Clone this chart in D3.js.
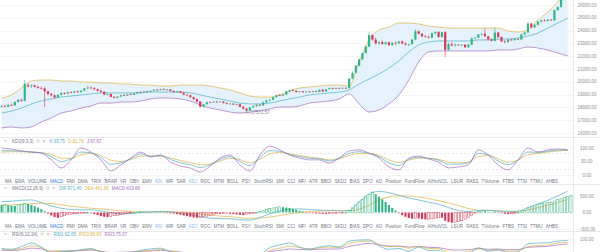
<!DOCTYPE html>
<html>
<head>
<meta charset="utf-8">
<script src="https://cdn.jsdelivr.net/npm/d3@7"></script>
<style>
  body { margin: 0; background: #fff; }
  svg { display: block; font-family: "Liberation Sans", Arial, sans-serif; }
</style>
</head>
<body>
<div id="chart"></div>
<script>
// Candles: [open, high, low, close]
const ohlc = [
  [18050,18180,17980,18120],[18120,18200,18020,18060],[18060,18250,18000,18200],[18200,18300,18100,18150],
  [18150,18480,18120,18420],[18420,18650,18380,18600],[18600,18700,18450,18520],[18520,20140,18480,19850],
  [19750,19900,19550,19650],[19650,19800,19500,19720],[19720,19780,19550,19600],[19600,19700,19450,19520],
  [19520,19650,19400,19480],[19480,19600,18030,19250],[19250,19300,18950,19050],[19050,19150,18850,18950],
  [18950,19000,18700,18780],[18780,19050,18750,18980],[18980,19200,18900,19120],[19120,19200,19000,19080],
  [19080,19250,19020,19180],[19180,19280,19080,19150],[19150,19300,19100,19250],[19250,19320,19120,19200],
  [19200,19350,19150,19300],[19300,19520,19250,19480],[19480,19650,19400,19550],[19550,19620,19420,19500],
  [19500,19580,19350,19420],[19420,19480,19250,19300],[19300,19380,19150,19220],[19220,19260,18950,19000],
  [19000,19100,18900,19050],[19050,19080,18780,18820],[18820,18900,18700,18750],[18750,18880,18700,18850],
  [18850,19000,18800,18950],[18950,19050,18880,18920],[18920,19080,18900,19020],[19020,19100,18950,18980],
  [18980,19150,18950,19100],[19100,19250,19050,19200],[19200,19280,19120,19180],[19180,19300,19150,19250],
  [19250,19320,19180,19220],[19220,19350,19200,19300],[19300,19420,19250,19380],[19380,19450,19300,19350],
  [19350,19480,19320,19420],[19420,19500,19350,19380],[19380,19450,19300,19400],[19400,19430,19250,19280],
  [19280,19320,19150,19200],[19200,19280,19120,19250],[19250,19300,19100,19150],[19150,19180,18950,19000],
  [19000,19050,18900,18950],[18950,19000,18750,18800],[18800,18850,18600,18650],[18650,18700,18400,18450],
  [18450,18500,18000,18050],[18050,18300,18000,18250],[18250,18450,18200,18400],[18400,18480,18320,18380],
  [18380,18500,18350,18450],[18450,18520,18380,18420],[18420,18500,18350,18460],[18460,18480,18300,18350],
  [18350,18400,18220,18280],[18280,18350,18200,18300],[18300,18320,18180,18220],[18220,18300,18150,18250],
  [18250,18280,18000,18050],[18050,18100,17850,17900],[17900,17950,17571.57,17750],[17750,18050,17700,18000],
  [18000,18150,17950,18100],[18100,18250,18050,18200],[18200,18300,18100,18150],[18150,18450,18120,18400],
  [18400,18600,18350,18550],[18550,18650,18450,18600],[18600,18850,18550,18800],[18800,19000,18750,18950],
  [18950,19050,18880,18920],[18920,19050,18900,19000],[19000,19300,18980,19250],[19250,19420,19200,19350],
  [19350,19450,19250,19300],[19300,19350,19150,19200],[19200,19280,19120,19250],[19250,19300,19150,19180],
  [19180,19280,19150,19240],[19240,19300,19150,19200],[19200,19300,19150,19260],[19260,19320,19180,19220],
  [19220,19420,19200,19380],[19380,19450,19200,19250],[19250,19450,19220,19420],[19420,19550,19380,19500],
  [19500,19560,19400,19450],[19450,19550,19420,19520],[19520,19580,19430,19480],[19480,19560,19420,19530],
  [19530,19580,19450,19500],[19500,20300,19480,20250],[20250,20800,20200,20700],[20700,21300,20650,21250],
  [21250,21800,21200,21750],[21750,22300,21700,22250],[22250,22800,22200,22750],[22750,23900,22700,23650],
  [23650,23700,23200,23300],[23300,23450,22900,23000],[23000,23200,22850,23100],[23100,23250,22900,22950],
  [22950,23150,22850,23080],[23080,23150,22800,22880],[22880,23100,22800,23050],[23050,23150,22900,23000],
  [23000,23200,22950,23150],[23150,23250,22950,23000],[23000,23100,22850,22900],[22900,23000,22750,22950],
  [22950,23350,22900,23300],[23300,24100,23250,23950],[23950,24000,23700,23750],[23750,23800,23500,23550],
  [23550,23650,23450,23500],[23500,23600,23400,23450],[23450,23850,23400,23800],[23800,23950,23700,23900],
  [23900,23950,23450,23500],[23500,23900,23450,23880],[23880,23950,21950,22500],[22500,23050,22400,22950],
  [22950,23100,22750,22850],[22850,23000,22750,22900],[22900,22950,22800,22850],[22850,22950,22750,22900],
  [22900,22950,22650,22700],[22700,22950,22650,22900],[22900,23450,22850,23400],[23400,23500,23300,23450],
  [23450,23750,23400,23700],[23700,23800,23600,23750],[23750,24150,23500,23550],[23550,23600,23250,23300],
  [23300,23400,23150,23200],[23200,24250,23150,23850],[23850,23900,23400,23500],[23500,23550,23100,23150],
  [23150,23250,23000,23100],[23100,23350,23050,23300],[23300,23350,23200,23250],[23250,23400,23200,23350],
  [23350,23400,23250,23300],[23300,23750,23250,23700],[23700,23900,23650,23850],[23850,24650,23800,24550],
  [24550,24600,24150,24250],[24250,24500,24200,24450],[24450,24750,24400,24700],[24700,24850,24600,24800],
  [24800,24900,24700,24750],[24750,24880,24700,24850],[24850,24900,24750,24800],[24800,25650,24750,25600],
  [25600,25900,25550,25850],[25850,26600,25800,26500],[26500,27000,26450,26900],[26900,27400,26850,27300],
  [27300,27700,27250,27600]
];

// Indicator lines, read every 3rd candle
const LINE_STEP = 3;
const bollUpper = [18730,18970,19520,20060,20140,20140,20060,20060,19980,19980,
  19910,19910,19830,19830,19750,19750,19670,19670,19750,19750,
  19750,19670,19520,19360,19130,18890,18810,18810,18970,19280,
  19520,19590,19670,19750,19750,19670,21550,23270,24050,24280,
  24590,24590,24520,24360,24280,24200,24200,24200,24200,24200,
  24200,23970,23890,24050,24830,25450,26230,27330];
const bollMid = [17560,17720,17950,18270,18500,18660,18810,18890,18970,19050,
  19130,19130,19130,19130,19130,19200,19200,19200,19200,19130,
  18970,18810,18660,18500,18340,18270,18270,18340,18500,18660,
  18810,18970,19050,19130,19200,19360,19830,20220,20610,21080,
  21630,22330,22880,23110,23190,23190,23190,23190,23270,23270,
  23340,23340,23420,23580,23810,24200,24590,24980];
const bollLower = [16390,16470,16390,16470,16860,17170,17560,17720,17950,18110,
  18340,18340,18420,18420,18500,18660,18730,18730,18660,18500,
  18190,17950,17800,17640,17560,17640,17720,17880,18030,18030,
  18110,18340,18420,18500,18660,19050,18270,17640,17800,18270,
  18970,20140,21550,22330,22410,22410,22410,22410,22410,22410,
  22480,22480,22560,22720,22640,22480,22250,22020];

const kdjK = [90,90,88,85,82,68,50,60,85,82,65,40,45,60,78,70,72,58,45,38,
  28,38,58,68,50,35,65,90,88,76,68,62,60,52,62,80,86,80,68,45,
  35,58,66,62,55,40,40,45,80,75,52,38,55,85,84,88,92,93];
const kdjD = [85,86,86,85,83,76,62,62,75,80,72,55,50,57,70,70,70,63,54,46,
  38,40,52,62,57,45,58,78,84,78,72,66,62,56,60,72,80,80,72,56,
  46,55,62,62,58,48,45,48,68,72,60,48,55,75,80,85,89,91];
const kdjJ = [100,96,89,85,81,56,26,56,100,85,56,15,37,63,85,67,74,48,33,26,
  11,33,63,74,37,15,74,107,93,74,63,56,56,44,63,89,93,81,63,30,
  19,63,70,59,48,26,30,37,93,74,37,19,56,100,85,93,96,93];

const macdDif = [330,340,370,380,300,200,130,90,80,80,50,0,-40,-30,0,20,30,20,-10,-60,
  -130,-170,-180,-190,-220,-230,-150,-40,40,100,110,90,70,60,50,60,330,560,640,600,
  520,440,380,310,250,150,60,30,60,70,40,20,40,150,260,370,500,650];
const macdDea = [220,230,250,270,280,270,230,190,160,130,110,80,50,30,20,15,20,20,15,0,
  -40,-80,-110,-130,-155,-180,-170,-140,-90,-40,0,30,45,55,55,55,100,220,380,470,
  510,500,470,420,360,290,210,120,70,60,50,40,40,80,150,220,300,400];
// MACD histogram, one bar per candle
const macdHist = [230,240,220,210,200,230,250,280,260,230,190,150,100,
  40,-30,-90,-140,-160,-130,-100,-70,-50,-40,-30,-20,-10,0,
  -20,-50,-80,-110,-130,-140,-120,-100,-90,-70,-50,-30,
  -10,0,10,20,20,15,10,5,10,10,0,-10,-20,-30,-50,-70,
  -90,-110,-130,-150,-160,-150,-130,-110,-80,-60,-40,-40,-30,-30,-40,-50,-60,
  -70,-80,-60,-40,-20,0,30,60,90,120,140,160,170,160,150,140,110,80,50,30,
  10,-10,-20,-30,-30,-40,-40,-30,-30,-20,-20,-10,0,
  60,140,230,320,400,470,540,620,560,480,400,320,230,140,60,
  -20,-80,-130,-170,-190,-170,-180,-200,-210,-200,-190,-170,-160,-160,
  -250,-290,-310,-300,-280,-250,-200,-150,
  -80,-20,30,50,40,20,10,20,0,-20,-40,-50,-40,-20,0,20,
  60,140,170,200,240,270,290,300,310,350,390,430,460,490,520];

const rsi1 = [65,62,72,85,70,45,52,55,60,65,50,35,45,48,58,63,66,52,45,30,
  18,35,42,35,25,25,40,68,78,85,70,62,70,75,70,92,96,97,75,62,
  65,55,70,58,58,40,38,42,68,55,60,50,52,82,85,86,92,95];
const rsi2 = [60,60,65,75,68,52,55,56,58,62,54,45,48,50,55,58,61,55,50,40,
  30,38,42,40,34,33,40,58,66,74,68,64,67,70,68,84,90,93,80,72,
  73,66,72,65,64,52,50,52,64,58,60,55,56,72,76,78,85,88];
const rsi3 = [58,58,60,66,63,55,56,56,57,59,55,50,51,52,54,56,58,55,52,46,
  40,43,45,44,41,40,44,53,58,63,61,60,62,63,63,73,79,84,78,74,
  74,70,73,69,68,61,59,60,65,62,63,60,61,69,71,73,78,82];

// Axis ticks
const priceTicks = [26000,25000,24000,23000,22000,21000,20000,19000,18000,17000,16000];
const kdjTicks = [100,50,0];
const macdTicks = [500,0,-500];
const rsiTicks = [100];

// Legends
const kdjLegend = {name: 'KDJ(9,3,3)', values: ['K:93.75','D:91.79','J:97.67']};
const macdLegend = {name: 'MACD(12,26,9)', values: ['DIF:671.49','DEA:461.66','MACD:419.66']};
const rsiLegend = {name: 'RSI(6,12,24)', values: ['RSI1:92.65','RSI2:86.83','RSI3:75.37']};

// Indicator picker row
const indicatorNames = ['MA','EMA','VOLUME','MACD','RMI','DMA','TRIX','BRAR','VR','OBV','EMV','RSI','WR','SAR','KDJ',
  'ROC','MTM','BOLL','PSY','StochRSI','SMI','CCI','MFI','ATR','BBOI','SKDJ','BIAS','DPO','AO','Position',
  'FundFlow','AIHotVOL','LSUR','RASS','TVolume','FTBS','TTSI','TTMU','AHBS'];
const activeNames = {MACD: '#2f7de1', RSI: '#8cb8ec', KDJ: '#8cb8ec'};

// Layout / style
const WIDTH = 600, HEIGHT = 252, PLOT_W = 573, AXIS_X = 587;
const UP = '#35b585', DOWN = '#d8385a';
const C1 = '#4aaec4', C2 = '#dcb243', C3 = '#a46bbd';
const GRID = '#eeeeee', TEXT = '#8a919b', FONT = 4.5;

const svg = d3.select('#chart').append('svg')
  .attr('width', WIDTH).attr('height', HEIGHT);

const x = d3.scaleLinear().domain([0, ohlc.length - 1]).range([1.6, 571]);
const xs = (d, k) => x(k * LINE_STEP);

const panes = [
  {id: 'main', top: 0, bottom: 137},
  {id: 'kdj', top: 137, bottom: 184},
  {id: 'macd', top: 184, bottom: 231},
  {id: 'rsi', top: 231, bottom: 278}
];
const defs = svg.append('defs');
panes.forEach(p => {
  defs.append('clipPath').attr('id', `clip-${p.id}`)
    .append('rect').attr('x', 0).attr('y', p.top).attr('width', PLOT_W).attr('height', p.bottom - p.top);
});

const yPrice = d3.scaleLinear().domain([16000, 26000]).range([133, 5]);
const yKdj = d3.scaleLinear().domain([0, 100]).range([175, 148]);
const yMacd = d3.scaleLinear().domain([-500, 500]).range([229, 196]);
const yRsi = d3.scaleLinear().domain([0, 100]).range([266, 239]);

// Grid and axis labels
function drawAxis(ticks, y) {
  svg.append('g').selectAll('line').data(ticks).enter().append('line')
    .attr('x1', 0).attr('x2', PLOT_W)
    .attr('y1', d => Math.round(y(d)) + 0.5).attr('y2', d => Math.round(y(d)) + 0.5)
    .attr('stroke', GRID).attr('stroke-width', 0.6);
  svg.append('g').selectAll('text').data(ticks).enter().append('text')
    .attr('x', AXIS_X).attr('y', d => y(d)).attr('dy', '0.35em')
    .attr('text-anchor', 'middle').attr('font-size', FONT).attr('fill', TEXT)
    .text(d => d3.format('.2f')(d));
}
drawAxis(priceTicks, yPrice);
drawAxis(kdjTicks, yKdj);
drawAxis(macdTicks, yMacd);
drawAxis(rsiTicks, yRsi);

// KDJ reference lines
svg.append('g').selectAll('line').data([80, 20]).enter().append('line')
  .attr('x1', 0).attr('x2', PLOT_W).attr('y1', d => yKdj(d)).attr('y2', d => yKdj(d))
  .attr('stroke', '#cfcfcf').attr('stroke-width', 0.5).attr('stroke-dasharray', '2,2');

// Pane separators and axis border
svg.append('g').selectAll('line').data(panes.slice(1)).enter().append('line')
  .attr('x1', 0).attr('x2', WIDTH).attr('y1', d => d.top + 0.5).attr('y2', d => d.top + 0.5)
  .attr('stroke', '#e2e2e2').attr('stroke-width', 0.8);
svg.append('line').attr('x1', PLOT_W + 0.5).attr('x2', PLOT_W + 0.5).attr('y1', 0).attr('y2', HEIGHT)
  .attr('stroke', '#e2e2e2').attr('stroke-width', 0.8);

// Main pane: Bollinger band and candles
const main = svg.append('g').attr('clip-path', 'url(#clip-main)');
main.append('path').datum(bollMid)
  .attr('d', d3.area().x(xs).y0((d, k) => yPrice(bollLower[k])).y1((d, k) => yPrice(bollUpper[k])).curve(d3.curveMonotoneX))
  .attr('fill', '#e6f2fb');
[[bollUpper, C2], [bollMid, C1], [bollLower, C3]].forEach(([data, color]) => {
  main.append('path').datum(data)
    .attr('d', d3.line().x(xs).y(d => yPrice(d)).curve(d3.curveMonotoneX))
    .attr('fill', 'none').attr('stroke', color).attr('stroke-width', 0.7);
});

const candle = main.append('g').selectAll('g').data(ohlc).enter().append('g');
candle.append('line')
  .attr('x1', (d, i) => x(i)).attr('x2', (d, i) => x(i))
  .attr('y1', d => yPrice(d[1])).attr('y2', d => yPrice(d[2]))
  .attr('stroke', d => d[3] >= d[0] ? UP : DOWN).attr('stroke-width', 0.6);
candle.append('rect')
  .attr('x', (d, i) => x(i) - 1.1).attr('width', 2.2)
  .attr('y', d => yPrice(Math.max(d[0], d[3])))
  .attr('height', d => Math.max(0.7, Math.abs(yPrice(d[0]) - yPrice(d[3]))))
  .attr('fill', d => d[3] >= d[0] ? UP : DOWN);

// Lowest price marker
const lowIdx = d3.minIndex(ohlc, d => d[2]);
const lowY = yPrice(ohlc[lowIdx][2]);
main.append('line').attr('x1', x(lowIdx)).attr('x2', x(lowIdx) + 4).attr('y1', lowY).attr('y2', lowY)
  .attr('stroke', '#76808f').attr('stroke-width', 0.5);
main.append('text').attr('x', x(lowIdx) + 4.5).attr('y', lowY).attr('dy', '0.35em')
  .attr('font-size', FONT).attr('fill', '#76808f').text(d3.format('.2f')(ohlc[lowIdx][2]));

// Sub panes
function drawLines(pane, series, y) {
  const g = svg.append('g').attr('clip-path', `url(#clip-${pane})`);
  series.forEach(([data, color]) => {
    g.append('path').datum(data)
      .attr('d', d3.line().x(xs).y(d => y(d)).curve(d3.curveMonotoneX))
      .attr('fill', 'none').attr('stroke', color).attr('stroke-width', 0.7);
  });
  return g;
}
drawLines('kdj', [[kdjD, C2], [kdjK, C1], [kdjJ, C3]], yKdj);

const macdG = drawLines('macd', [[macdDea, C2], [macdDif, C1]], yMacd);
macdG.append('g').selectAll('rect').data(macdHist).enter().append('rect')
  .each(function(d, i) {
    const prev = i > 0 ? macdHist[i - 1] : d;
    const color = d >= 0 ? UP : DOWN;
    const hollow = d > prev;
    const y0 = yMacd(0), y1 = yMacd(d);
    d3.select(this)
      .attr('x', x(i) - 1.05).attr('width', 2.1)
      .attr('y', Math.min(y0, y1)).attr('height', Math.max(0.5, Math.abs(y1 - y0)))
      .attr('fill', hollow ? 'none' : color)
      .attr('stroke', color).attr('stroke-width', hollow ? 0.5 : 0);
  });

drawLines('rsi', [[rsi3, C3], [rsi2, C2], [rsi1, C1]], yRsi);

// Pane legends
function drawLegend(y, legend) {
  const g = svg.append('g').attr('font-size', FONT);
  g.append('path').attr('d', `M4,${y - 1} L5.6,${y + 0.6} L7.2,${y - 1}`)
    .attr('fill', 'none').attr('stroke', '#8a919b').attr('stroke-width', 0.5);
  const name = g.append('text').attr('x', 12).attr('y', y).attr('dy', '0.35em').attr('fill', '#6f7783').text(legend.name);
  let cx = 12 + name.node().getComputedTextLength() + 3;
  g.append('circle').attr('cx', cx + 1.5).attr('cy', y).attr('r', 1.4)
    .attr('fill', 'none').attr('stroke', '#9aa0a8').attr('stroke-width', 0.4);
  g.append('text').attr('x', cx + 6).attr('y', y).attr('dy', '0.35em').attr('fill', '#9aa0a8').text('×');
  cx += 13;
  [C1, C2, C3].forEach((color, k) => {
    const t = g.append('text').attr('x', cx).attr('y', y).attr('dy', '0.35em').attr('fill', color).text(legend.values[k]);
    cx += t.node().getComputedTextLength() + 3;
  });
}
drawLegend(141, kdjLegend);
drawLegend(188, macdLegend);
drawLegend(234, rsiLegend);

// Indicator name rows
function drawNameRow(y) {
  const g = svg.append('g').attr('font-size', FONT);
  const items = indicatorNames.map(n => g.append('text').attr('y', y).attr('dy', '0.35em')
    .attr('fill', activeNames[n] || '#6f7783').text(n));
  const widths = items.map(t => t.node().getComputedTextLength());
  const gap = (558 - 5 - d3.sum(widths)) / (items.length - 1);
  let cx = 5;
  items.forEach((t, k) => { t.attr('x', cx); cx += widths[k] + gap; });
}
drawNameRow(181);
drawNameRow(226);
</script>
</body>
</html>
